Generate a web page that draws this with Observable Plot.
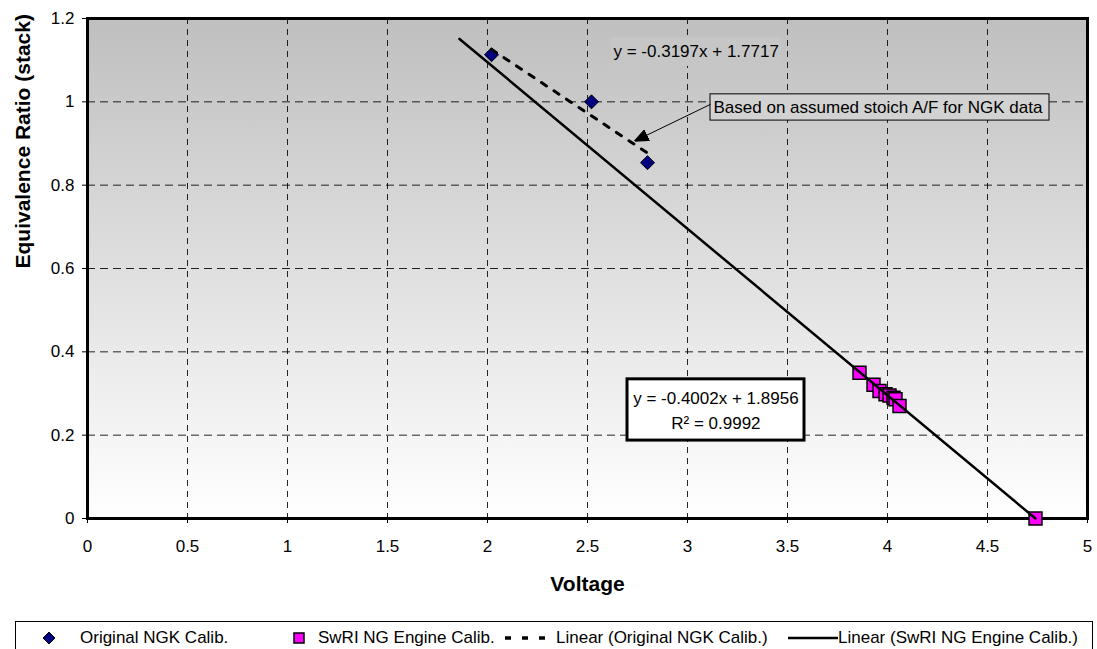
<!DOCTYPE html>
<html>
<head>
<meta charset="utf-8">
<script src="https://cdn.jsdelivr.net/npm/d3@7"></script>
<script src="https://cdn.jsdelivr.net/npm/@observablehq/plot@0.6"></script>
<style>
  body { margin: 0; background: #fff; font-family: "Liberation Sans", Arial, sans-serif; }
  #wrap { position: relative; width: 1097px; height: 649px; overflow: hidden; }
  #legend { position: absolute; left: 15px; top: 621px; width: 1078px; height: 40px; border: 1px solid #000; box-sizing: border-box; font-size: 17px; color: #000; }
  #legend .item { position: absolute; top: 6px; height: 20px; display: flex; align-items: center; white-space: nowrap; }
  #legend .lab { position: absolute; top: 6px; line-height: 20px; white-space: nowrap; }
</style>
</head>
<body>
<div id="wrap">
  <div id="chart"></div>
  <div id="legend"></div>
</div>
<script>
// ---- data ----
const ngkVoltage = [2.02, 2.52, 2.80];
const ngkPhi = [1.113, 1.0, 0.854];

const swriVoltage = [3.86, 3.93, 3.96, 3.99, 4.01, 4.03, 4.04, 4.06, 4.74];
const swriPhi = [0.350, 0.321, 0.306, 0.298, 0.295, 0.290, 0.286, 0.270, 0.0];

// trendline endpoints (as drawn)
const ngkTrendX = [2.02, 2.80];
const ngkTrendY = [1.126, 0.877];
const swriTrendX = [1.86, 4.74];
const swriTrendY = [1.151, 0.0];

const xTicks = [0, 0.5, 1, 1.5, 2, 2.5, 3, 3.5, 4, 4.5, 5];
const yTicks = [0, 0.2, 0.4, 0.6, 0.8, 1, 1.2];

const ngkEquation = "y = -0.3197x + 1.7717";
const swriEquation = "y = -0.4002x + 1.8956";
const swriR2 = "R² = 0.9992";
const noteText = "Based on assumed stoich A/F for NGK data";
const xTitle = "Voltage";
const yTitle = "Equivalence Ratio (stack)";

const legendLabels = ["Original NGK Calib.", "SwRI NG Engine Calib.", "Linear (Original NGK Calib.)", "Linear (SwRI NG Engine Calib.)"];

// annotation anchors (data units)
const eqBox = {x1: 2.62, x2: 3.47, y1: 1.085, y2: 1.154, tx: 2.63, ty: 1.12};
const noteBox = {x1: 3.115, x2: 4.81, y1: 0.955, y2: 1.018, tx: 3.13, ty: 0.986};
const noteArrow = {x1: 3.115, y1: 0.994, x2: 2.745, y2: 0.908};
const r2Box = {x1: 2.70, x2: 3.585, y1: 0.187, y2: 0.334, tx: 3.142, ty1: 0.289, ty2: 0.229};

// ---- tables ----
const ngk = ngkVoltage.map((v, i) => ({v, phi: ngkPhi[i]}));
const swri = swriVoltage.map((v, i) => ({v, phi: swriPhi[i]}));
const ngkTrend = ngkTrendX.map((v, i) => ({v, phi: ngkTrendY[i]}));
const swriTrend = swriTrendX.map((v, i) => ({v, phi: swriTrendY[i]}));

const fmtY = d => String(+d.toFixed(1));
const fmtX = d => String(d);

function filledArrow() {
  const m = document.createElementNS("http://www.w3.org/2000/svg", "marker");
  m.setAttribute("viewBox", "-6 -5 12 10");
  m.setAttribute("markerWidth", "14");
  m.setAttribute("markerHeight", "12");
  m.setAttribute("markerUnits", "userSpaceOnUse");
  m.setAttribute("orient", "auto");
  m.setAttribute("refX", "4");
  m.setAttribute("refY", "0");
  const p = document.createElementNS("http://www.w3.org/2000/svg", "path");
  p.setAttribute("d", "M-6,-5L6,0L-6,5Z");
  p.setAttribute("fill", "#000");
  m.appendChild(p);
  return m;
}

const chart = Plot.plot({
  width: 1097,
  height: 618,
  marginLeft: 87,
  marginRight: 10,
  marginTop: 18,
  marginBottom: 100,
  style: {fontFamily: "'Liberation Sans', Arial, sans-serif", fontSize: "17px", color: "#000", background: "#fff", overflow: "visible"},
  x: {domain: [0, 5], ticks: xTicks, tickFormat: fmtX, label: null},
  y: {domain: [0, 1.2], ticks: yTicks, tickFormat: fmtY, label: null},
  marks: [
    Plot.frame({fill: "url(#bgGrad)", stroke: "none"}),
    Plot.gridX(xTicks.slice(1, -1), {stroke: "#000", strokeOpacity: 0.85, strokeDasharray: "6,5"}),
    Plot.gridY(yTicks.slice(1, -1), {stroke: "#000", strokeOpacity: 0.85, strokeDasharray: "8,5"}),
    Plot.frame({stroke: "#000", strokeWidth: 3}),
    Plot.axisX(xTicks, {tickSize: 5, tickPadding: 16, fontSize: 17, stroke: "#000", tickFormat: fmtX}),
    Plot.axisY(yTicks, {tickSize: 5, tickPadding: 8, fontSize: 17, stroke: "#000", tickFormat: fmtY}),
    Plot.text([xTitle], {frameAnchor: "bottom", dy: 72, fontSize: 21, fontWeight: "bold"}),
    Plot.text([yTitle], {frameAnchor: "left", dx: -64, rotate: -90, fontSize: 21, fontWeight: "bold"}),
    // equation label NGK
    Plot.rect([eqBox], {x1: "x1", x2: "x2", y1: "y1", y2: "y2", fill: "#c6c6c6"}),
    Plot.text([eqBox], {x: "tx", y: "ty", text: () => ngkEquation, textAnchor: "start", fontSize: 17}),
    // note
    Plot.rect([noteBox], {x1: "x1", x2: "x2", y1: "y1", y2: "y2", fill: "#d2d2d2", stroke: "#000", strokeWidth: 1}),
    Plot.text([noteBox], {x: "tx", y: "ty", text: () => noteText, textAnchor: "start", fontSize: 17}),
    Plot.link([noteArrow], {x1: "x1", y1: "y1", x2: "x2", y2: "y2", stroke: "#000", strokeWidth: 1, markerEnd: filledArrow}),
    // markers
    Plot.dot(swri, {x: "v", y: "phi", symbol: "square", r: 7.3, fill: "#ff00ff", stroke: "#000", strokeWidth: 1.5}),
    Plot.dot(ngk, {x: "v", y: "phi", symbol: "diamond2", r: 6.3, fill: "#000080", stroke: "#000", strokeWidth: 1}),
    // trend lines
    Plot.line(ngkTrend, {x: "v", y: "phi", stroke: "#000", strokeWidth: 3, strokeDasharray: "6,9"}),
    Plot.line(swriTrend, {x: "v", y: "phi", stroke: "#000", strokeWidth: 2.5}),
    // R2 box
    Plot.rect([r2Box], {x1: "x1", x2: "x2", y1: "y1", y2: "y2", fill: "#fff", stroke: "#000", strokeWidth: 3}),
    Plot.text([r2Box], {x: "tx", y: "ty1", text: () => swriEquation, fontSize: 17}),
    Plot.text([r2Box], {x: "tx", y: "ty2", text: () => swriR2, fontSize: 17})
  ]
});

// gradient background
const ns = "http://www.w3.org/2000/svg";
const defs = document.createElementNS(ns, "defs");
const grad = document.createElementNS(ns, "linearGradient");
grad.setAttribute("id", "bgGrad");
grad.setAttribute("x1", "0"); grad.setAttribute("y1", "0");
grad.setAttribute("x2", "0"); grad.setAttribute("y2", "1");
[["0", "#bfbfbf"], ["1", "#ffffff"]].forEach(([o, c]) => {
  const s = document.createElementNS(ns, "stop");
  s.setAttribute("offset", o); s.setAttribute("stop-color", c);
  grad.appendChild(s);
});
defs.appendChild(grad);
chart.insertBefore(defs, chart.firstChild);
document.getElementById("chart").appendChild(chart);

// legend (positions relative to legend box)
const legend = document.getElementById("legend");
const items = [
  {symLeft: 26, textLeft: 64, svg: '<svg width="14" height="14"><path d="M7,1L13,7L7,13L1,7Z" fill="#000080" stroke="#000" stroke-width="1"/></svg>'},
  {symLeft: 276, textLeft: 302, svg: '<svg width="14" height="14"><rect x="2" y="2" width="10" height="10" fill="#ff00ff" stroke="#000" stroke-width="1.5"/></svg>'},
  {symLeft: 487, textLeft: 540, svg: '<svg width="52" height="14"><line x1="2" y1="7" x2="52" y2="7" stroke="#000" stroke-width="3.5" stroke-dasharray="6,11"/></svg>'},
  {symLeft: 772, textLeft: 822, svg: '<svg width="50" height="14"><line x1="0" y1="7" x2="50" y2="7" stroke="#000" stroke-width="2.5"/></svg>'}
];
items.forEach((it, i) => {
  const s = document.createElement("div");
  s.className = "item";
  s.style.left = it.symLeft + "px";
  s.innerHTML = it.svg;
  legend.appendChild(s);
  const t = document.createElement("div");
  t.className = "lab";
  t.style.left = it.textLeft + "px";
  t.textContent = legendLabels[i];
  legend.appendChild(t);
});
</script>
</body>
</html>
